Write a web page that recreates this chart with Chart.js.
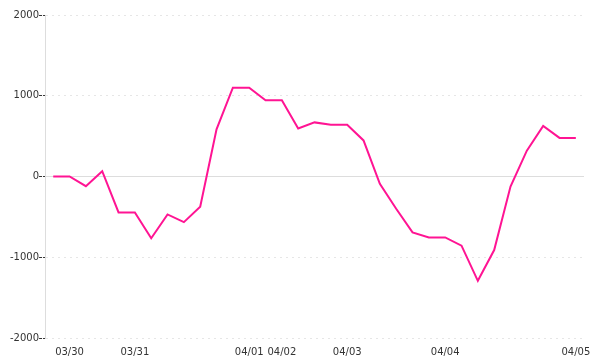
<!DOCTYPE html>
<html>
<head>
<meta charset="utf-8">
<script src="https://cdn.jsdelivr.net/npm/chart.js@4/dist/chart.umd.min.js"></script>
<style>
  body { margin: 0; background: #fff; }
  #wrap { width: 600px; height: 360px; }
</style>
</head>
<body>
<div id="wrap"><canvas id="myChart" width="600" height="360"></canvas></div>
<script>
// one point per step, date shown only where the day starts
var labels = ['', '03/30', '', '', '', '03/31', '', '', '', '', '', '', '04/01', '', '04/02', '', '', '',
  '04/03', '', '', '', '', '', '04/04', '', '', '', '', '', '', '', '04/05'];
var values = [0, 0, -120, 65, -445, -445, -765, -470, -565, -375, 585, 1100, 1100, 945, 945, 595, 670,
  640, 640, 447, -90, -400, -692, -754, -754, -857, -1292, -911, -124, 320, 625, 478, 478];
var yTicks = [-2000, -1000, 0, 1000, 2000];

new Chart(document.getElementById('myChart'), {
  type: 'line',
  data: {
    labels: labels,
    datasets: [{
      data: values,
      borderColor: '#ff1493',
      borderWidth: 2,
      pointRadius: 0,
      tension: 0,
      fill: false
    }]
  },
  options: {
    responsive: false,
    animation: false,
    layout: { padding: { top: 15, right: 16, left: 10, bottom: 2 } },
    plugins: { legend: { display: false }, tooltip: { enabled: false } },
    scales: {
      x: {
        offset: true,
        grid: { display: false },
        border: { display: false },
        ticks: {
          autoSkip: false,
          maxRotation: 0,
          padding: 0,
          color: '#333',
          font: { family: 'DejaVu Sans', size: 10 }
        }
      },
      y: {
        min: yTicks[0],
        max: yTicks[yTicks.length - 1],
        afterBuildTicks: function (axis) {
          axis.ticks = yTicks.map(function (v) { return { value: v }; });
        },
        grid: {
          color: function (ctx) { return ctx.tick && ctx.tick.value === 0 ? '#dddddd' : '#e6e6e6'; },
          tickColor: '#333',
          tickLength: 6,
          tickBorderDash: [3, 1]
        },
        border: {
          color: '#dddddd',
          dash: function (ctx) {
            if (!ctx.tick) return [];
            return ctx.tick.value === 0 ? [] : [2, 4];
          }
        },
        ticks: {
          padding: 0,
          color: '#333',
          font: { family: 'DejaVu Sans', size: 10 },
          callback: function (v) { return String(v); }
        }
      }
    }
  }
});
</script>
</body>
</html>
